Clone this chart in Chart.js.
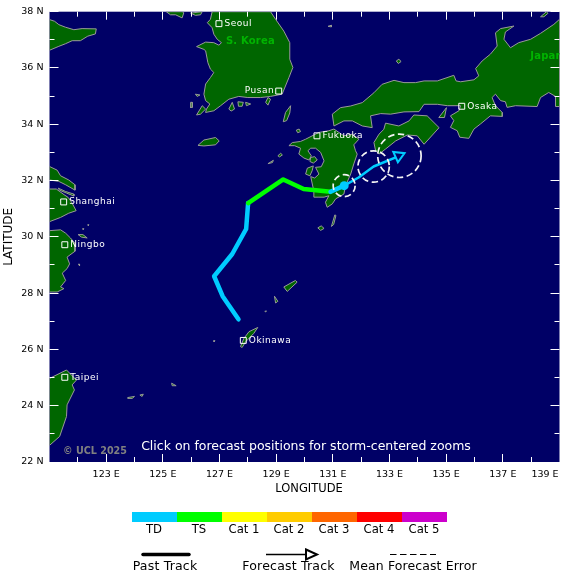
<!DOCTYPE html>
<html>
<head>
<meta charset="utf-8">
<style>
  html, body { margin: 0; padding: 0; background: #fff; }
  canvas { display: block; }
</style>
<script src="https://cdn.jsdelivr.net/npm/chart.js@4"></script>
</head>
<body>
<canvas id="map" width="580" height="582"></canvas>
<script>
// --- land outlines, [lon, lat] ---
const shandong = [[121,37.72],[121.18,37.66],[121.33,37.54],[121.56,37.45],[121.86,37.36],[122.15,37.4],[122.65,37.39],[122.62,37.21],[122.35,37.13],[122.09,36.97],[121.8,36.97],[121.56,36.86],[121.33,36.77],[121,36.63]];
const korea = [[126.74,38],[126.68,37.73],[126.57,37.61],[126.74,37.43],[126.8,37.2],[126.92,37.02],[127.07,36.9],[126.98,36.81],[126.8,36.9],[126.51,36.92],[126.19,36.76],[126.45,36.66],[126.51,36.61],[126.59,36.19],[126.68,35.96],[126.8,35.84],[126.68,35.66],[126.51,35.43],[126.45,35.07],[126.51,34.84],[126.66,34.72],[126.54,34.54],[126.51,34.42],[126.8,34.48],[127.04,34.66],[127.33,34.89],[127.68,34.99],[128,34.95],[128.45,34.95],[128.8,34.99],[129.21,35.07],[129.45,35.66],[129.59,36.02],[129.48,36.31],[129.48,36.9],[129.27,37.31],[128.98,37.73],[128.8,38]];
const ongjin = [[125.12,38],[125.27,37.89],[125.45,37.89],[125.68,37.78],[125.74,37.96],[125.72,38]];
const ganghwa = [[125.98,37.95],[126.15,37.87],[126.33,37.89],[126.39,38]];
const kyushu = [[129.45,33.24],[129.57,33.35],[129.86,33.39],[130.04,33.47],[130.33,33.62],[130.51,33.71],[130.86,33.77],[131.04,33.83],[131.39,33.59],[131.69,33.65],[131.92,33.47],[131.74,33.27],[131.8,33.06],[131.86,32.94],[131.74,32.59],[131.63,32.23],[131.45,31.82],[131.39,31.52],[131.1,31.35],[130.98,31.17],[130.8,31.05],[130.74,31.23],[130.86,31.46],[130.69,31.41],[130.51,31.41],[130.33,31.41],[130.33,31.62],[130.22,32.14],[130.36,32.09],[130.51,32.23],[130.39,32.47],[130.59,32.49],[130.69,32.7],[130.57,33],[130.39,33.15],[130.22,33.15],[130.12,33.06],[130.24,32.88],[130.16,32.73],[129.98,32.8],[129.8,32.94],[129.86,33.15],[129.65,33.24]];
const shikoku = [[132.45,33.35],[132.63,33.65],[132.8,33.82],[132.86,34.04],[133.33,33.94],[133.69,34.12],[133.86,34.33],[134.33,34.3],[134.75,33.88],[134.22,33.29],[133.98,33.59],[133.63,33.62],[133.22,33.41],[132.86,33.12],[132.63,32.94],[132.51,33.06]];
const honshu = [[130.98,34.36],[131.27,34.59],[131.63,34.65],[132.04,34.77],[132.45,35.12],[132.74,35.42],[133.16,35.56],[133.51,35.48],[133.92,35.48],[134.22,35.54],[134.69,35.54],[135.27,35.74],[135.35,35.54],[135.51,35.51],[135.98,35.58],[136.15,35.72],[136.04,35.98],[136.27,36.25],[136.56,36.49],[136.8,36.78],[136.74,37.25],[136.92,37.4],[137.39,37.49],[137.09,37.28],[137.04,37.02],[137.27,36.72],[137.56,36.9],[137.98,37.02],[138.33,37.23],[138.8,37.55],[139,37.73],[139,34.63],[138.86,34.63],[138.86,34.99],[138.62,35.13],[138.33,34.95],[138.21,34.63],[137.45,34.66],[137.15,34.6],[137.09,34.8],[136.92,34.84],[136.74,35.07],[136.62,34.95],[136.74,34.66],[136.98,34.42],[136.98,34.28],[136.56,34.3],[136.21,34.01],[135.98,33.83],[135.8,33.5],[135.48,33.54],[135.39,33.77],[135.15,33.89],[135.27,34.13],[135.15,34.3],[135.45,34.48],[135.51,34.66],[135.04,34.66],[134.69,34.71],[134.22,34.71],[134.04,34.45],[133.51,34.44],[133.04,34.36],[132.69,34.38],[132.33,34.3],[132.39,33.88],[132.04,33.94],[131.69,34.12],[131.39,34.12],[131.04,33.94]];
const jiangsu = [[121,32.5],[121.27,32.37],[121.39,32.17],[121.68,32.02],[121.9,31.85],[121.9,31.66],[121.57,31.85],[121.33,31.97],[121,32.02]];
const chongming = [[121.31,31.73],[121.57,31.61],[121.86,31.52],[121.86,31.45],[121.59,31.56],[121.35,31.66]];
const shanghaiCoast = [[121,31.7],[121.24,31.7],[121.51,31.5],[121.66,31.4],[121.78,31.23],[121.94,30.93],[121.68,30.84],[121.39,30.69],[121,30.54]];
const zhejiang = [[121,30.22],[121.39,30.25],[121.57,30.13],[121.74,29.96],[121.9,29.77],[121.9,29.49],[121.62,29.28],[121.71,29.04],[121.62,28.87],[121.45,28.71],[121.57,28.45],[121.39,28.22],[121.51,28.16],[121.27,28.04],[121,28.04]];
const taiwan = [[121,24.97],[121.6,25.27],[121.95,24.91],[121.8,24.74],[121.88,24.56],[121.62,24.03],[121.6,23.62],[121.36,22.91],[121,22.59]];
const islands = [
  [[127.33,34.54],[127.45,34.78],[127.53,34.54],[127.41,34.47]],
  [[128.63,34.78],[128.71,34.95],[128.8,34.89],[128.71,34.68]],
  [[129.25,34.09],[129.33,34.42],[129.51,34.66],[129.48,34.4],[129.37,34.13]],
  [[127.65,34.8],[127.84,34.78],[127.8,34.64],[127.67,34.64]],
  [[127.92,34.78],[128.1,34.72],[127.95,34.66]],
  [[126.19,34.33],[126.39,34.66],[126.51,34.54],[126.33,34.36]],
  [[125.98,34.78],[126.04,34.78],[126.04,34.6],[125.96,34.6]],
  [[126.15,35.07],[126.31,35.04],[126.21,34.99]],
  [[126.24,33.25],[126.45,33.44],[126.86,33.53],[126.99,33.41],[126.86,33.27],[126.45,33.23]],
  [[130.22,32.82],[130.36,32.85],[130.45,32.73],[130.31,32.62],[130.19,32.68]],
  [[130.04,32.23],[130.1,32.44],[130.31,32.52],[130.27,32.35],[130.19,32.17]],
  [[131.07,30.78],[131.11,30.76],[131.03,30.44],[130.95,30.37]],
  [[130.47,30.32],[130.59,30.39],[130.69,30.3],[130.57,30.23]],
  [[129.71,33.79],[129.81,33.83],[129.86,33.74],[129.76,33.7]],
  [[133.24,36.25],[133.33,36.31],[133.41,36.23],[133.31,36.16]],
  [[130.83,37.48],[130.95,37.52],[130.95,37.46]],
  [[128.71,32.6],[128.9,32.72],[128.87,32.64]],
  [[129.06,32.88],[129.16,32.97],[129.22,32.91],[129.12,32.84]],
  [[134.74,34.24],[135.01,34.59],[134.94,34.24]],
  [[138.33,37.82],[138.54,38],[138.59,37.94],[138.45,37.82]],
  [[122.01,30.08],[122.18,30.08],[122.33,29.96],[122.13,29.99]],
  [[122.02,29.03],[122.06,29.03],[122.06,28.97]],
  [[122.35,30.43],[122.39,30.43],[122.37,30.4]],
  [[122.17,30.29],[122.21,30.29],[122.19,30.26]],
  [[127.74,26.1],[127.86,26.39],[128.04,26.63],[128.35,26.78],[128.21,26.57],[127.92,26.27],[127.8,26.07]],
  [[129.27,28.22],[129.68,28.45],[129.74,28.39],[129.39,28.06]],
  [[128.94,27.89],[129.06,27.71],[128.98,27.65]],
  [[128.6,27.36],[128.66,27.36],[128.63,27.33]],
  [[126.79,26.31],[126.84,26.31],[126.81,26.27]],
  [[125.31,24.8],[125.47,24.71],[125.33,24.71]],
  [[123.76,24.29],[124,24.33],[123.92,24.26],[123.76,24.26]],
  [[124.19,24.38],[124.31,24.41],[124.27,24.33]]
];

// --- storm track ---
const pastTD = [[127.67,27.07],[127.11,27.89],[126.81,28.6],[127.45,29.39],[127.94,30.28],[128.01,31.2]];
const pastTS = [[128.01,31.2],[129.25,32.04],[129.97,31.7],[130.92,31.6]];
const pastTDLate = [[130.92,31.6],[131.4,31.82]];
const forecastTrack = [[131.4,31.82],[131.91,32.11],[132.44,32.5],[133.35,32.88]];
const currentPos = [[131.4,31.82]];
const arrowPos = [[133.32,32.88]];
const errorCircles = [[131.4,31.82,0.388],[132.44,32.5,0.554],[133.35,32.88,0.766]];

// --- cities ---
const cityNames = ['Seoul','Pusan','Shanghai','Ningbo','Taipei','Okinawa','Fukuoka','Osaka'];
const cityLon = [126.98,129.09,121.5,121.54,121.54,127.84,130.44,135.55];
const cityLat = [37.575,35.18,31.24,29.72,25.01,26.32,33.59,34.64];

// --- axes ---
const lonLabelTicks = [123,125,127,129,131,133,135,137];
const latLabelTicks = [22,24,26,28,30,32,34,36,38];
const lonMinorTicks = [122,124,126,128,130,132,134,136,138];
const latMinorTicks = [23,25,27,29,31,33,35,37];

// --- intensity scale ---
const catLabels = ['TD','TS','Cat 1','Cat 2','Cat 3','Cat 4','Cat 5'];
const catColors = ['#00ccff','#00ff00','#ffff00','#ffcc00','#ff6600','#ff0000','#cc00cc'];

const FONT = "'DejaVu Sans', sans-serif";
const toXY = pts => pts.map(p => ({ x: p[0], y: p[1] }));

const landShapes = [shandong, korea, ongjin, ganghwa, kyushu, shikoku, honshu, jiangsu, chongming, shanghaiCoast, zhejiang, taiwan, ...islands];
const landSets = landShapes.map(s => ({
  data: toXY(s.concat([s[0]])),
  borderColor: '#999999',
  borderWidth: 1,
  backgroundColor: '#006600',
  fill: 'shape',
  pointRadius: 0,
  tension: 0,
  order: 10
}));

function trackSet(pts, color, width, order) {
  return { data: toXY(pts), borderColor: color, borderWidth: width, pointRadius: 0, fill: false, tension: 0, order: order, borderJoinStyle: 'round', borderCapStyle: 'round' };
}

function text(ctx, str, x, y, font, color, align, spacing) {
  ctx.font = font;
  ctx.fillStyle = color;
  ctx.textAlign = align || 'left';
  ctx.textBaseline = 'middle';
  ctx.letterSpacing = spacing || '0px';
  ctx.fillText(str, x, y);
  ctx.letterSpacing = '0px';
}

// navy sea behind everything
const seaPlugin = {
  id: 'sea',
  beforeDatasetsDraw(chart) {
    const a = chart.chartArea, ctx = chart.ctx;
    ctx.save();
    ctx.fillStyle = '#000066';
    ctx.fillRect(a.left, a.top, a.width, a.height);
    ctx.restore();
  }
};

// inward ticks on all four sides, error circles, labels on the map
const overlayPlugin = {
  id: 'overlay',
  afterDatasetsDraw(chart) {
    const ctx = chart.ctx, a = chart.chartArea, xs = chart.scales.x, ys = chart.scales.y;
    ctx.save();
    ctx.strokeStyle = '#ffffff';
    ctx.lineWidth = 1;
    const tickX = (v, len) => {
      const x = Math.round(xs.getPixelForValue(v) - 0.5) + 0.5;
      ctx.beginPath();
      ctx.moveTo(x, a.top); ctx.lineTo(x, a.top + len);
      ctx.moveTo(x, a.bottom); ctx.lineTo(x, a.bottom - len);
      ctx.stroke();
    };
    const tickY = (v, len) => {
      const y = Math.round(ys.getPixelForValue(v) - 0.5) + 0.5;
      ctx.beginPath();
      ctx.moveTo(a.left, y); ctx.lineTo(a.left + len, y);
      ctx.moveTo(a.right, y); ctx.lineTo(a.right - len, y);
      ctx.stroke();
    };
    lonLabelTicks.forEach(v => tickX(v, 8));
    lonMinorTicks.forEach(v => tickX(v, 5));
    latLabelTicks.forEach(v => tickY(v, 9));
    latMinorTicks.forEach(v => tickY(v, 5));

    // mean forecast error
    ctx.strokeStyle = '#f4f4f4';
    ctx.lineWidth = 1.7;
    ctx.setLineDash([6.5, 3.5]);
    errorCircles.forEach(c => {
      const px = xs.getPixelForValue(c[0]), py = ys.getPixelForValue(c[1]);
      const r = Math.abs(xs.getPixelForValue(c[0] + c[2]) - px);
      ctx.beginPath();
      ctx.arc(px, py, r, 0, Math.PI * 2);
      ctx.stroke();
    });
    ctx.setLineDash([]);

    // city names
    const cityFont = '9px ' + FONT;
    cityNames.forEach((name, i) => {
      const px = xs.getPixelForValue(cityLon[i]), py = ys.getPixelForValue(cityLat[i]);
      if (name === 'Pusan') text(ctx, name, px - 4.5, py - 0.5, cityFont, '#fff', 'right', '0.5px');
      else text(ctx, name, px + 5.5, py, cityFont, '#fff', 'left', '0.5px');
    });

    ctx.beginPath();
    ctx.rect(a.left, a.top, a.width, a.height);
    ctx.clip();
    text(ctx, 'S. Korea', xs.getPixelForValue(128.09), ys.getPixelForValue(36.94), 'bold 10px ' + FONT, '#00b400', 'center', '0.2px');
    text(ctx, 'Japan', xs.getPixelForValue(137.97), ys.getPixelForValue(36.4), 'bold 10px ' + FONT, '#00b400', 'left', '0.2px');
    text(ctx, '\u00a9 UCL 2025', 63, 451.5, 'bold 9.6px ' + FONT, '#808080');
    text(ctx, 'Click on forecast positions for storm-centered zooms', 306, 446.5, '12.5px ' + FONT, '#ffffff', 'center');
    ctx.restore();
  },
  afterDraw(chart) {
    const ctx = chart.ctx;
    ctx.save();
    text(ctx, '139 E', 545, 474.5, '9.5px ' + FONT, '#000', 'center');
    text(ctx, 'LONGITUDE', 309, 489, '11.5px ' + FONT, '#000', 'center');

    // colour scale
    catLabels.forEach((label, i) => {
      ctx.fillStyle = catColors[i];
      ctx.fillRect(132 + i * 45, 512, 45, 10);
      text(ctx, label, 154 + i * 45, 529.5, '11.7px ' + FONT, '#000', 'center');
    });

    // line key
    const keyFont = '12.5px ' + FONT;
    ctx.strokeStyle = '#000';
    ctx.lineCap = 'round';
    ctx.lineWidth = 3.5;
    ctx.beginPath(); ctx.moveTo(143, 554.5); ctx.lineTo(189, 554.5); ctx.stroke();
    text(ctx, 'Past Track', 165, 566.5, keyFont, '#000', 'center', '0.2px');

    ctx.lineCap = 'butt';
    ctx.lineWidth = 1.5;
    ctx.beginPath(); ctx.moveTo(266, 554.5); ctx.lineTo(306, 554.5); ctx.stroke();
    ctx.lineWidth = 2;
    ctx.beginPath(); ctx.moveTo(306, 549.5); ctx.lineTo(317, 554.5); ctx.lineTo(306, 559.5); ctx.closePath(); ctx.stroke();
    text(ctx, 'Forecast Track', 288.5, 566.5, keyFont, '#000', 'center', '0.2px');

    ctx.lineWidth = 1;
    ctx.setLineDash([6.5, 3.5]);
    ctx.beginPath(); ctx.moveTo(390, 554.5); ctx.lineTo(436, 554.5); ctx.stroke();
    ctx.setLineDash([]);
    text(ctx, 'Mean Forecast Error', 413, 566.5, keyFont, '#000', 'center', '0.1px');
    ctx.restore();
  }
};

new Chart(document.getElementById('map'), {
  type: 'scatter',
  data: {
    datasets: [
      {
        data: cityLon.map((lon, i) => ({ x: lon, y: cityLat[i] })),
        pointStyle: 'rect', pointRadius: 4.2, pointBorderColor: '#fff', pointBorderWidth: 1,
        pointBackgroundColor: 'rgba(0,0,0,0)', showLine: false, order: 1
      },
      { data: toXY(arrowPos), pointStyle: 'triangle', pointRadius: 6.5, pointRotation: 66, pointBorderColor: '#00ccff', pointBorderWidth: 2, pointBackgroundColor: '#000066', showLine: false, order: 2 },
      { data: toXY(currentPos), pointStyle: 'circle', pointRadius: 4.5, pointBorderWidth: 0, pointBackgroundColor: '#00ccff', showLine: false, order: 3 },
      Object.assign(trackSet(forecastTrack, '#00ccff', 2.5, 4), { showLine: true }),
      Object.assign(trackSet(pastTDLate, '#00ccff', 4.5, 5), { showLine: true }),
      Object.assign(trackSet(pastTS, '#00ff00', 4.5, 6), { showLine: true }),
      Object.assign(trackSet(pastTD, '#00ccff', 4.5, 7), { showLine: true }),
      ...landSets.map(s => Object.assign(s, { showLine: true }))
    ]
  },
  plugins: [seaPlugin, overlayPlugin],
  options: {
    responsive: false,
    animation: false,
    devicePixelRatio: 1,
    layout: { padding: { top: 10, left: 0, right: 20.5, bottom: 0 } },
    plugins: { legend: { display: false }, tooltip: { enabled: false } },
    scales: {
      x: {
        type: 'linear', min: 121, max: 139,
        afterBuildTicks(scale) { scale.ticks = lonLabelTicks.map(v => ({ value: v })); },
        afterFit(scale) { scale.height = 120; },
        grid: { display: false, drawTicks: false },
        border: { display: false },
        ticks: { padding: 7, color: '#000', font: { family: FONT, size: 9.5 }, maxRotation: 0, autoSkip: false, callback: v => v + ' E' }
      },
      y: {
        type: 'linear', min: 22, max: 38,
        afterBuildTicks(scale) { scale.ticks = latLabelTicks.map(v => ({ value: v })); },
        afterFit(scale) { scale.width = 49.5; },
        grid: { display: false, drawTicks: false },
        border: { display: false },
        ticks: { padding: 6, color: '#000', font: { family: FONT, size: 9.5 }, autoSkip: false, callback: v => v + ' N' },
        title: { display: true, text: 'LATITUDE', color: '#000', font: { family: FONT, size: 12 }, padding: { top: 2, bottom: 0 } }
      }
    }
  }
});
</script>
</body>
</html>
